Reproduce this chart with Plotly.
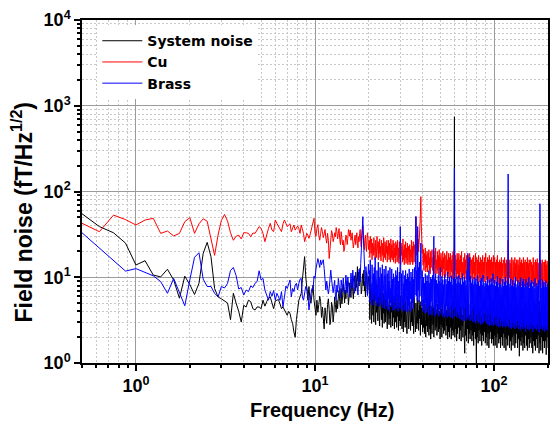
import numpy as np
import plotly.graph_objects as go

# ---------------- data ----------------
# frequency grid: FFT bins (0.125 Hz) up to 20 Hz, log-spaced above
freq_low = np.arange(0.5, 10.0001, 0.125)          # 77 points
freq_mid = np.arange(10.125, 20.0001, 0.125)       # 80 points
freq_high = 20 * 10 ** (np.arange(1, 401) / 400)   # 400 points (20 .. 200 Hz)

# System noise (black), fT/Hz^1/2
system_low = [55, 39, 33, 25, 13.9, 15.6, 10.6, 10.1, 12.4, 9.3, 5.7, 10.3, 8.2, 6.3, 8.5,
              19, 25.5, 17.4, 7.4, 5.9, 5.6, 5.3, 5.0, 3.2, 6.5, 5.0, 4.0, 3.0, 4.7,
              4.5, 5.4, 5.2, 4.3, 4.15, 4.5, 4.5, 4.3, 5.4, 4.6, 5.2, 5.7, 5.9, 4.9, 4.3, 5.3,
              5.4, 5.5, 4.9, 4.3, 4.5, 4.15, 3.96, 3.6, 4.0, 3.8, 3.2, 2.9, 2.3, 2.0, 3.2, 4.15,
              5.4, 5.9, 6.5, 9.3, 13, 17.4, 10.3, 7, 5.4, 7.8, 5.4, 5.0, 6.5, 8.1, 5.4, 4.5]
system_mid = [3.6, 5.4, 3.9, 4.8, 6.0, 5.2, 3.4, 4.5, 3.3, 2.5, 4.4, 3.8, 2.9, 4.8, 5.6, 4.2,
              2.8, 3.35, 5.1, 4.5, 3.0, 3.8, 5.9, 4.8, 3.9, 5.4, 4.3, 5.9, 7.0, 5.2, 4.4, 7.4,
              4.9, 5.9, 8.4, 6.8, 5.0, 7.1, 5.6, 7.8, 9.0, 6.5, 4.8, 5.9, 8.6, 7.4, 5.8, 8.1,
              9.6, 6.8, 5.6, 7.8, 10.4, 8.5, 6.9, 9.3, 7.6, 13.3, 9.0, 11.5, 7.9, 10.5, 12.8, 9.7,
              6.4, 7.1, 9.4, 11, 8.0, 12.1, 6.9, 8.9, 5.9, 8.1, 11.6, 10.5, 6.3, 7.1, 10.2, 9.3]
system_high = [
    6.8, 3.2, 8.0, 4.6, 5.1, 2.9, 7.3, 5.5, 3.6, 6.2,
    3.0, 7.7, 4.3, 5.9, 2.8, 6.6, 3.9, 8.2, 4.8, 3.1,
    6.0, 3.5, 4.9, 2.7, 7.1, 4.0, 5.6, 3.2, 6.8, 2.6,
    5.2, 3.8, 6.5, 2.9, 4.4, 5.8, 3.0, 6.9, 3.6, 5.0,
    2.5, 6.2, 4.1, 5.4, 2.8, 7.0, 3.3, 4.7, 2.6, 5.9,
    3.9, 6.4, 2.7, 5.0, 3.4, 6.0, 2.5, 5.6, 4.2, 3.0,
    5.8, 2.6, 4.6, 3.5, 6.3, 2.4, 5.1, 3.1, 4.5, 2.7,
    6.1, 3.3, 4.2, 2.5, 5.5, 3.8, 2.3, 5.9, 3.0, 4.8,
    2.6, 5.3, 3.6, 4.4, 2.2, 6.0, 3.2, 4.9, 2.5, 5.6,
    3.4, 4.7, 2.4, 5.2, 3.0, 6.4, 2.7, 4.3, 3.5, 2.2,
    5.7, 3.1, 4.5, 2.3, 5.0, 3.6, 2.5, 5.8, 2.9, 4.1,
    2.4, 5.4, 3.3, 4.7, 2.1, 5.2, 2.8, 4.4, 3.7, 2.3,
    5.5, 2.6, 4.0, 2.2, 4.9, 3.2, 2.0, 5.3, 2.7, 4.3,
    2.3, 4.8, 3.4, 2.1, 5.6, 2.5, 4.2, 1.9, 4.6, 3.0,
    2.2, 5.0, 2.8, 4.4, 2.0, 4.7, 3.3, 2.4, 5.4, 2.6,
    4.1, 2.1, 4.9, 3.0, 2.3, 5.2, 2.5, 4.0, 1.9, 4.6,
    2.8, 4.3, 2.0, 5.1, 2.6, 3.8, 2.2, 4.8, 2.4, 3.6,
    5.3, 2.1, 4.1, 2.7, 4.6, 1.9, 5.0, 2.3, 3.9, 2.0,
    4.5, 2.6, 3.7, 1.9, 4.9, 2.4, 4.2, 2.1, 5.5, 2.3,
    745, 2.0, 4.4, 2.5, 3.8, 1.8, 4.7, 2.2, 4.0, 2.6,
    5.2, 1.9, 3.9, 2.4, 4.6, 1.8, 4.1, 2.7, 3.6, 2.0,
    4.8, 2.3, 3.5, 1.3, 4.4, 2.1, 5.0, 1.8, 3.9, 2.5,
    4.2, 1.7, 4.9, 2.2, 3.6, 1.9, 5.4, 2.4, 4.0, 1.8,
    3.8, 2.1, 4.5, 1.6, 4.7, 2.3, 3.7, 1.9, 3.4, 1.0,
    4.6, 2.0, 3.9, 1.7, 5.1, 2.4, 4.2, 1.8, 4.4, 2.2,
    3.7, 1.6, 4.8, 2.1, 4.0, 1.8, 5.6, 2.3, 3.8, 1.7,
    5.0, 2.0, 3.6, 1.6, 4.5, 2.2, 4.1, 1.5, 4.9, 1.9,
    3.9, 2.3, 4.6, 1.7, 4.2, 1.9, 5.3, 1.6, 3.7, 2.1,
    4.4, 1.6, 4.0, 2.0, 5.5, 1.5, 4.3, 2.2, 3.8, 1.7,
    4.7, 1.9, 3.5, 1.5, 6.2, 2.0, 4.1, 1.6, 4.5, 2.2,
    3.9, 1.5, 4.8, 2.0, 4.2, 1.4, 3.7, 1.9, 5.0, 1.6,
    4.4, 2.1, 3.8, 1.5, 4.9, 1.8, 4.0, 1.4, 5.2, 2.0,
    3.6, 1.6, 4.5, 2.1, 4.1, 1.5, 5.4, 1.7, 3.9, 2.2,
    4.8, 1.5, 3.7, 1.9, 4.3, 1.2, 4.6, 1.8, 3.8, 1.6,
    5.1, 2.0, 4.0, 1.4, 4.4, 1.7, 3.6, 1.5, 4.9, 2.1,
    3.9, 1.6, 4.6, 1.4, 4.1, 1.9, 5.5, 1.5, 4.2, 1.7,
    4.7, 2.0, 3.8, 1.5, 4.5, 1.3, 4.0, 1.8, 5.0, 1.6,
    4.2, 1.4, 4.8, 1.9, 3.7, 1.5, 4.4, 2.1, 4.0, 1.3,
    5.3, 1.7, 4.1, 1.4, 4.6, 2.0, 3.8, 1.3, 4.5, 1.8,
    3.9, 1.5, 4.7, 1.8, 4.3, 1.25, 5.1, 2.0, 4.0, 1.5]

# Cu (red)
cu_low = [42.6, 34, 53, 47, 40.7, 46.5, 48.7, 32.5, 34.6, 30.3, 32.5, 44.5, 49.5, 32.5, 42,
          48, 45, 29, 18, 31, 46, 54, 45, 33, 27, 30, 31, 28, 33,
          33, 32.5, 29.7, 32.8, 32.5, 35.5, 38.9, 37.2, 32.5, 26, 32.5, 37.2, 42.5, 35.5, 34,
          46.5, 42.5, 39.5, 35.5, 34, 42, 46.5, 42.5, 38.9, 40.7, 42, 34, 37, 40.7, 35.5,
          37, 39.5, 37, 32.5, 40.7, 36, 32.5, 26, 28.4, 32.5, 31, 28.4, 31, 35.5, 40.7, 46.5,
          48.7, 32.5]
cu_mid = [30, 37, 41, 31, 27, 32.5, 38, 34, 29, 32, 36, 28.4, 25, 32.5, 27, 16.5,
          22, 27.1, 35, 32, 26, 28.4, 33, 29.7, 38, 34, 28, 32.5, 37, 27.5, 24, 34,
          30, 23.8, 27, 20, 22, 24.9, 31, 29.7, 24, 28.4, 36, 34, 30, 35.5, 27, 29.7,
          33, 26, 22, 24.9, 30, 31, 24, 27.1, 33, 24.9, 22, 29.7, 26, 32.5, 36, 26,
          22.5, 31, 38, 40, 29, 24.9, 21, 28.4, 31, 22.7, 20, 27.1, 33, 29.7, 21, 24.9]
cu_high = [
    27, 17, 30, 21, 19, 28, 16, 25, 22, 18,
    29, 19, 24, 16, 27, 21, 17, 30, 20, 23,
    16, 26, 19, 28, 17, 23, 15.5, 27, 21, 18,
    25, 15, 29, 20, 17, 26, 16, 24, 19, 27,
    15, 23, 18, 27, 16, 25, 20, 15, 28, 17,
    24, 16, 21, 27, 15, 25, 17, 22, 14.5, 26,
    18, 24, 15, 27, 16, 22, 14.5, 26, 17, 20,
    14, 25, 18, 23, 15, 28, 16, 21, 14, 24,
    17, 26, 14.5, 22, 16, 25, 14, 23, 18, 15,
    24, 14, 21, 17, 27, 15, 23, 14, 26, 18,
    15, 24, 19, 30, 51, 26, 18, 35, 22, 28,
    20, 33, 24, 40, 55, 87, 42, 26, 19, 24,
    14, 21, 12, 19, 15, 22, 11.5, 18, 13, 20,
    11.5, 19, 14, 21, 12, 17, 11, 20, 13, 18,
    21, 12, 17, 10.5, 20, 14, 18, 11, 22, 12.5,
    16, 11, 20, 12, 18, 10.5, 21, 13, 17, 10.5,
    19, 11.5, 16, 10, 20, 12.5, 17, 10.5, 19, 11,
    10, 18, 12, 20, 10.5, 16, 11, 19, 9.8, 17,
    12, 19, 10, 16, 11.5, 18, 9.6, 20, 11, 15,
    22, 10, 18, 12, 16, 9.5, 19, 11, 17, 10,
    19, 9.5, 16, 11.5, 18, 10, 20, 9.4, 15, 11,
    10.5, 17, 9.6, 19, 11, 16, 9.4, 18, 12, 15,
    18, 10, 15, 9.2, 19, 11, 17, 9.6, 16, 10.5,
    9.3, 17, 11, 18, 9.6, 15, 10.4, 19, 9.2, 16,
    17, 9.6, 16, 11, 18, 8.8, 15, 10, 17, 9.2,
    10.5, 16, 8.9, 18, 9.8, 15, 11, 17, 8.8, 16,
    19, 9.2, 15, 10.5, 17, 8.7, 16, 9.6, 18, 9,
    8.8, 16, 10.4, 17, 9, 15, 11, 18, 8.6, 16,
    17, 9.5, 15, 8.4, 16, 10, 18, 8.2, 15, 9.4,
    8.4, 16, 9.8, 15, 8.2, 17, 9, 14.5, 10.2, 16,
    15, 8.2, 17, 9.6, 14.5, 8.5, 16, 10, 15, 8,
    27, 8.6, 15, 9.8, 16, 8.1, 14.5, 9.2, 17, 8.3,
    9.5, 16, 8, 15, 10.2, 17, 8.5, 14.5, 9, 16,
    15, 8.4, 16, 9.6, 14, 8, 17, 9.2, 15, 7.9,
    16, 9, 14.5, 8.2, 17, 9.8, 15, 7.8, 16, 8.8,
    8.1, 15, 9.4, 17, 8, 14.5, 9.7, 16, 7.8, 15,
    16, 7.9, 15, 9.2, 14, 8.4, 17, 9, 15, 7.7,
    8.6, 16, 7.8, 15, 9.5, 16.5, 8, 14.5, 9, 15,
    15, 8.2, 16, 7.6, 14.5, 9.3, 16, 8, 15, 4,
    7.6, 15, 9, 16, 7.5, 14, 8.6, 15.5, 7.8, 14.5]

# Brass (blue)
brass_low = [33, 22, 15.5, 11.8, 12.6, 11.3, 10.4, 8.9, 6.5, 9.7, 6.8, 4.65, 9.3, 17.1, 19.3,
             9.5, 7.8, 7.8, 6.5, 5.9, 7.8, 7.5, 8.5, 12, 13, 10.5, 7.3, 7.6, 6.2,
             7.1, 6.8, 7.9, 7.6, 8.5, 8.9, 11.9, 9.3, 9.7, 7.1, 6.2, 5.4, 6.8, 6.0, 7.0,
             5.4, 6.5, 5.9, 5.4, 6.8, 4.5, 5.9, 7.9, 7.4, 8.6, 9.3, 5.9, 7.4, 6.8, 8.1,
             8.5, 7.1, 8.5, 9.5, 9.7, 5.9, 5.4, 6.2, 7.8, 7.4, 6.5, 4.15, 5.4, 6.5, 7.4, 7.1,
             10.3, 9.7]
brass_mid = [12.5, 14.5, 16.5, 14.8, 13, 15.9, 14, 15.2, 16, 12.6, 9.5, 7.1, 9, 7.8, 6.4, 7.4,
             9.8, 12.1, 9.5, 8.1, 6.6, 7.8, 9.2, 6.2, 5.4, 8.1, 6.7, 9.7, 8.4, 7.1, 5.8, 9.3,
             7.6, 6.8, 9.8, 8.1, 6.4, 7.8, 10.6, 8.5, 6.6, 10.1, 8.8, 7.4, 5.9, 8.1, 11.2, 9.7,
             7.5, 12.1, 10.2, 8.5, 6.5, 8.1, 11.5, 10.1, 8.3, 7.1, 6.2, 9.3, 12.4, 11, 8.8, 14.5,
             19, 24.9, 36, 50.9, 30, 17.4, 12.5, 10.5, 7.9, 13.3, 10.2, 8.1, 6.1, 10.1, 14.2, 11]
brass_high = [
    12, 5.2, 16, 6.8, 8.5, 4.8, 14, 7.5, 5.5, 11,
    4.7, 13, 6.2, 17, 5.3, 9.5, 4.6, 12, 7, 5,
    15, 5.8, 10, 4.5, 13, 6.5, 4.8, 11, 5.2, 14,
    4.4, 9, 6, 12.5, 4.3, 10.5, 5.5, 13.5, 4.6, 8.5,
    11, 4.2, 12, 5.6, 9, 4.0, 13, 5, 7.5, 4.5,
    12.5, 5.4, 9.5, 4.1, 11, 6, 4.2, 10, 5, 12,
    4.3, 10.5, 5.8, 13, 4.0, 9, 5.2, 11.5, 4.4, 39,
    9, 4.2, 11, 5.6, 4.0, 12, 4.8, 8.5, 4.1, 10.5,
    5.2, 12, 4.0, 9.5, 5.4, 11, 3.9, 10, 4.6, 12.5,
    4.2, 9, 5.6, 11.5, 4.0, 10, 5, 12.5, 4.3, 9.5,
    5.5, 13, 6.2, 14, 51, 6, 12, 5.4, 39, 7,
    13, 5.2, 15, 6, 11, 25, 9.5, 4.6, 12, 5,
    4.0, 10, 4.6, 8.5, 3.8, 11, 5, 9, 3.9, 10.5,
    4.4, 9, 3.6, 12, 4.8, 8.6, 3.7, 10, 5.2, 9.5,
    3.6, 10.5, 4.4, 8.8, 30, 4.0, 9.6, 3.5, 11, 4.6,
    9.2, 3.7, 8.4, 5, 10.5, 3.5, 9, 4.2, 13, 3.8,
    8.6, 4.4, 10.2, 3.5, 9.4, 4.8, 8.2, 3.4, 10.8, 4,
    3.6, 9.5, 4.6, 8.3, 3.4, 11.5, 4.1, 9, 3.5, 10,
    4.3, 8.8, 3.4, 10.4, 4.7, 8.2, 3.3, 9.7, 4.2, 12,
    186, 3.5, 9.6, 4.4, 8.4, 3.4, 10.2, 4.0, 8.8, 3.6,
    10.5, 3.3, 8.6, 4.5, 9.8, 3.2, 8.2, 4.1, 11, 3.1,
    8.8, 3.6, 10, 3.1, 9.2, 4.4, 8, 3.2, 12, 3.5,
    19, 3.3, 9, 17, 8.4, 3.1, 10.4, 3.8, 8.6, 3.2,
    9.4, 3.0, 8.2, 4.2, 10, 3.1, 8.8, 2.9, 9.6, 3.7,
    8.3, 3.1, 10.5, 2.9, 8.8, 3.9, 7.9, 3.0, 9.2, 2.8,
    9.8, 3.5, 8.1, 2.9, 10.6, 3.0, 8.6, 4.0, 7.8, 3.1,
    9, 2.9, 8.4, 3.6, 10.2, 2.8, 8, 3.2, 9.4, 2.7,
    8.2, 3.8, 9.7, 2.8, 8.5, 3.0, 11, 2.7, 8.1, 3.4,
    9.3, 2.8, 7.9, 3.5, 8.8, 2.7, 10.3, 2.9, 7.7, 2.6,
    8.6, 3.4, 9.8, 2.7, 8.2, 3.1, 7.6, 2.6, 9.5, 3.0,
    7.9, 2.7, 8.8, 3.3, 10, 2.6, 8.0, 2.9, 9.1, 2.7,
    160, 2.6, 8.4, 3.2, 7.7, 2.6, 9.6, 2.5, 8.0, 3.0,
    9.2, 2.6, 7.8, 2.9, 8.6, 2.5, 10.1, 2.8, 7.6, 2.6,
    8.3, 3.1, 9.4, 2.5, 7.9, 2.8, 8.8, 2.4, 9.9, 2.6,
    7.7, 2.7, 8.9, 2.5, 9.6, 3.0, 7.6, 2.6, 8.4, 2.3,
    9.5, 2.8, 7.8, 2.5, 8.7, 2.6, 10, 2.4, 7.5, 2.9,
    8.6, 2.5, 9.3, 2.8, 7.8, 2.3, 8.9, 2.7, 7.4, 2.5,
    9.7, 2.6, 7.6, 2.4, 8.5, 2.9, 7.9, 2.5, 9.2, 2.3,
    7.8, 72, 8.6, 2.5, 7.5, 2.7, 9.4, 2.4, 8.0, 2.6,
    8.8, 2.3, 7.6, 2.7, 9.1, 2.4, 7.7, 2.5, 8.4, 2.4]

series_names = ["System noise", "Cu", "Brass"]
series_colors = ["#000000", "#ff0000", "#0000ff"]

x_tickvals = [1, 10, 100]
x_ticktext = ["10<sup>0</sup>", "10<sup>1</sup>", "10<sup>2</sup>"]
y_tickvals = [1, 10, 100, 1000, 10000]
y_ticktext = ["10<sup>0</sup>", "10<sup>1</sup>", "10<sup>2</sup>", "10<sup>3</sup>", "10<sup>4</sup>"]

# ---------------- figure ----------------
freq = np.concatenate([freq_low, freq_mid, freq_high])
values = [system_low + system_mid + system_high,
          cu_low + cu_mid + cu_high,
          brass_low + brass_mid + brass_high]
for v in values:
    assert len(v) == len(freq), (len(v), len(freq))

FONT = "Liberation Sans, Arial, sans-serif"
LEG_FONT = "DejaVu Sans, Liberation Sans, sans-serif"

fig = go.Figure()
for name, color, v in zip(series_names, series_colors, values):
    fig.add_trace(go.Scatter(x=freq, y=v, mode="lines", name=name,
                             line=dict(color=color, width=1)))

x_minor = [m * 10.0 ** e for e in (-1, 0, 1) for m in range(2, 10)] + [200]
y_minor = [m * 10.0 ** e for e in (0, 1, 2, 3) for m in range(2, 10)]

axis_common = dict(
    type="log", tickmode="array", ticks="outside", ticklen=6, tickwidth=1.5,
    tickcolor="black", showline=True, linecolor="black", linewidth=1.5, mirror=True,
    showgrid=True, gridcolor="#9a9a9a", gridwidth=1, zeroline=False,
    tickfont=dict(family=FONT, size=18, color="black", weight="bold"),
)

fig.update_xaxes(**axis_common, range=[np.log10(0.5), np.log10(200)],
                 tickvals=x_tickvals, ticktext=x_ticktext,
                 minor=dict(tickmode="array", tickvals=x_minor, ticks="outside", ticklen=3,
                            tickcolor="black", showgrid=True, gridcolor="#c8c8c8",
                            griddash="2px,2px", gridwidth=1))
fig.update_yaxes(**axis_common, range=[0, 4],
                 tickvals=y_tickvals, ticktext=y_ticktext,
                 minor=dict(tickmode="array", tickvals=y_minor, ticks="outside", ticklen=3,
                            tickcolor="black", showgrid=True, gridcolor="#c8c8c8",
                            griddash="2px,2px", gridwidth=1))

fig.update_layout(
    width=551, height=422,
    margin=dict(l=82, r=1, t=20, b=59),
    paper_bgcolor="white", plot_bgcolor="white",
    showlegend=True,
    legend=dict(x=0.0329, y=0.985, xanchor="left", yanchor="top",
                bgcolor="white", borderwidth=0, tracegroupgap=0, itemwidth=40,
                font=dict(family=LEG_FONT, size=14, color="black", weight="bold")),
    annotations=[
        dict(text="Frequency (Hz)", xref="paper", yref="paper", x=0.515, y=-0.137,
             xanchor="center", yanchor="middle", showarrow=False,
             font=dict(family=FONT, size=20, color="black", weight="bold")),
        dict(text="Field noise (fT/Hz<sup>1/2</sup>)", xref="paper", yref="paper",
             x=-0.128, y=0.44, xanchor="center", yanchor="middle", textangle=-90,
             showarrow=False,
             font=dict(family=FONT, size=23, color="black", weight="bold")),
    ],
)

fig.write_html("out.html")
